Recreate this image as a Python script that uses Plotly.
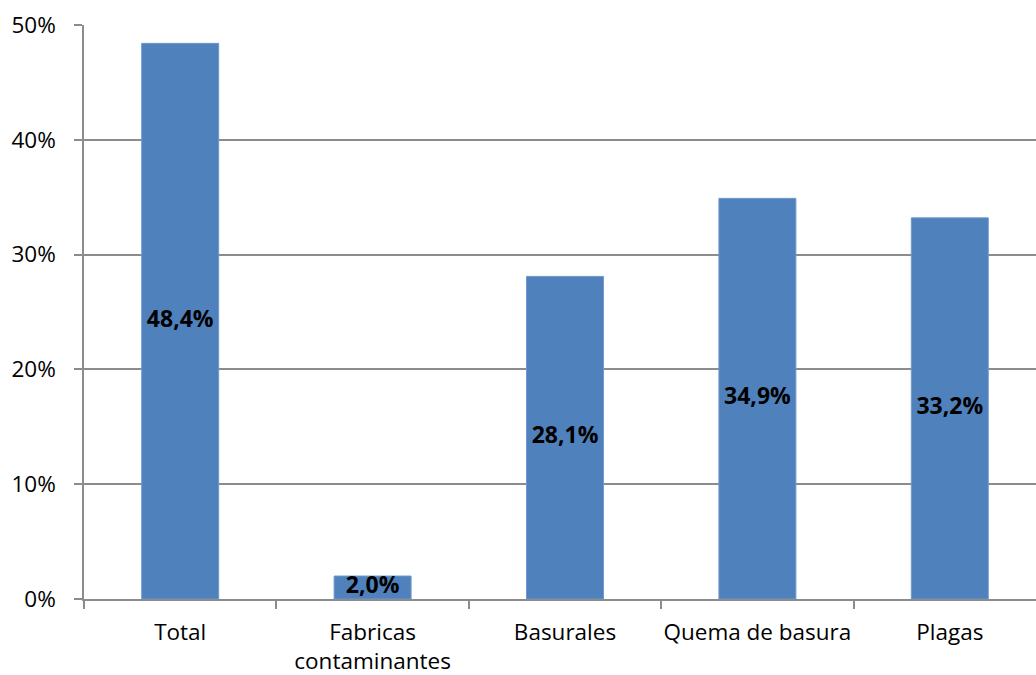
import plotly.graph_objects as go

categories = ["Total", "Fabricas<br>contaminantes", "Basurales", "Quema de basura", "Plagas"]
values = [48.4, 2.0, 28.1, 34.9, 33.2]
y_ticks = [0, 10, 20, 30, 40, 50]
y_tick_labels = ["0%", "10%", "20%", "30%", "40%", "50%"]

labels = [f"{v:.1f}".replace(".", ",") + "%" for v in values]
FONT = "Open Sans"

fig = go.Figure()
fig.add_trace(go.Bar(
    x=categories, y=values, width=0.4,
    marker=dict(color="#4F81BD", line=dict(color="#6E98CC", width=1)),
    hoverinfo="skip",
))
fig.add_trace(go.Scatter(
    x=categories, y=[v / 2 for v in values], mode="text", text=labels,
    textposition="middle center",
    textfont=dict(family=FONT, size=23, color="#000000", weight="bold"),
    hoverinfo="skip", cliponaxis=False,
))

fig.update_layout(
    width=1036, height=675,
    margin=dict(l=84, r=0, t=25, b=76),
    paper_bgcolor="white", plot_bgcolor="white",
    showlegend=False,
    font=dict(family=FONT, size=22.5, color="#000000"),
    xaxis=dict(
        range=[-0.5, 4.448], showgrid=False, automargin=False, tickangle=0,
        showline=True, linecolor="#8c8c8c", linewidth=1.5,
        ticks="outside", tickson="boundaries", ticklen=8, tickcolor="#8c8c8c", tickwidth=1.5,
        tickfont=dict(family=FONT, size=22.5, color="#000000"),
        ticklabelstandoff=12,
    ),
    yaxis=dict(
        range=[0, 50], tickvals=y_ticks, ticktext=y_tick_labels, automargin=False,
        showgrid=True, gridcolor="#8c8c8c", gridwidth=1.5,
        showline=True, linecolor="#8c8c8c", linewidth=1.5,
        ticks="outside", ticklen=8, tickcolor="#8c8c8c", tickwidth=1.5,
        tickfont=dict(family=FONT, size=22.5, color="#000000"),
        ticklabelstandoff=14, zeroline=False,
    ),
)

fig.write_html(
    "out.html",
    config={"displayModeBar": False},
    post_script="document.body.style.margin='0';document.body.style.overflow='hidden';",
)
